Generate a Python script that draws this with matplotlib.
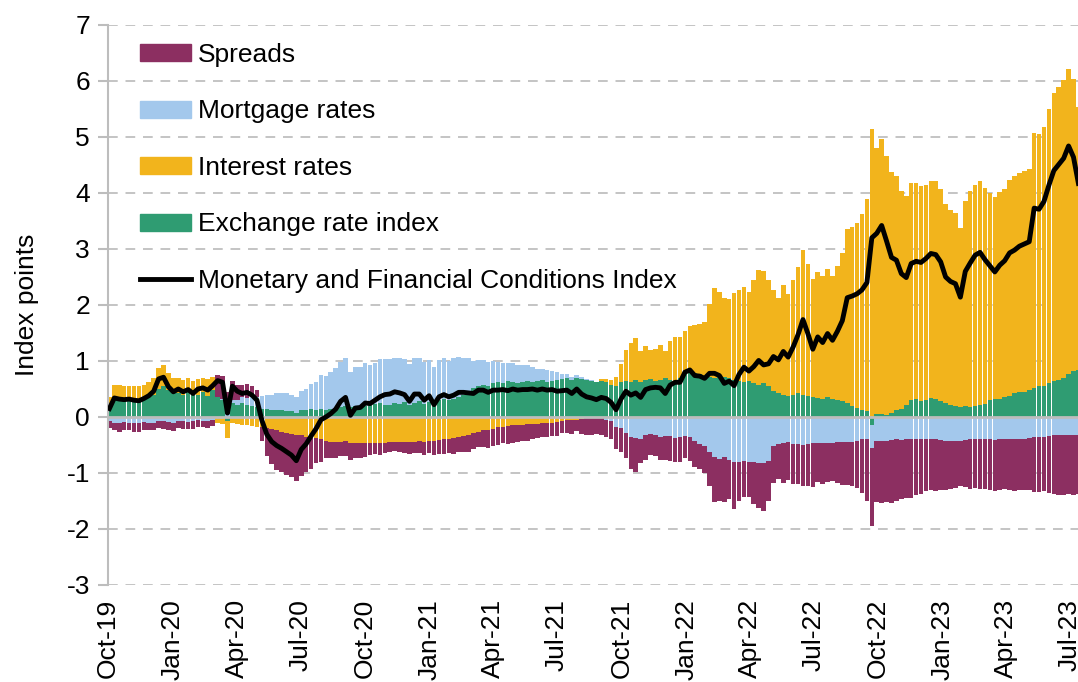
import numpy as np
import pandas as pd
import matplotlib
matplotlib.use("Agg")
import matplotlib.pyplot as plt
import matplotlib.dates as mdates
from matplotlib.patches import Patch
from matplotlib.lines import Line2D

# ---------------- data (weekly readings, first week 3 Oct 2019) ----------------
first_week = "2019-10-03"

exchange_rate_index = [
    0.15, 0.30, 0.32, 0.30, 0.28,
    0.30, 0.28, 0.32, 0.35,
    0.40, 0.50, 0.55, 0.48, 0.42,
    0.42, 0.40, 0.45, 0.42,
    0.40, 0.45, 0.38, 0.48,
    0.35, 0.30, -0.08, 0.25, 0.22,
    0.25, 0.22, 0.20, 0.18,
    0.15, 0.14, 0.12, 0.13,
    0.12, 0.10, 0.10, 0.08, 0.12,
    0.12, 0.14, 0.12, 0.15,
    0.12, 0.14, 0.15, 0.18,
    0.20, 0.18, 0.20, 0.18, 0.20,
    0.22, 0.24, 0.25, 0.22,
    0.22, 0.25, 0.24, 0.26,
    0.22, 0.25, 0.28, 0.24, 0.26,
    0.28, 0.30, 0.32, 0.30,
    0.33, 0.35, 0.40, 0.45,
    0.52, 0.56, 0.58, 0.55, 0.60,
    0.62, 0.60, 0.64, 0.62,
    0.60, 0.62, 0.64, 0.62,
    0.64, 0.66, 0.62, 0.65, 0.66,
    0.68, 0.70, 0.66, 0.70,
    0.68, 0.66, 0.64, 0.62, 0.65,
    0.62, 0.58, 0.56, 0.62,
    0.64, 0.62, 0.66, 0.62,
    0.66, 0.68, 0.64, 0.66, 0.70,
    0.66, 0.64, 0.70, 0.80,
    0.84, 0.78, 0.76, 0.74,
    0.72, 0.70, 0.74, 0.72,
    0.70, 0.66, 0.64, 0.62, 0.64,
    0.60, 0.58, 0.60, 0.55,
    0.46, 0.42, 0.40, 0.38, 0.40,
    0.42, 0.40, 0.38, 0.36,
    0.34, 0.32, 0.35, 0.33,
    0.30, 0.28, 0.25, 0.20, 0.16,
    0.12, 0.10, -0.15, 0.05,
    0.06, 0.04, 0.08, 0.12,
    0.15, 0.22, 0.30, 0.32, 0.28,
    0.30, 0.34, 0.32, 0.28,
    0.25, 0.22, 0.20, 0.18, 0.20,
    0.18, 0.20, 0.22, 0.24,
    0.30, 0.32, 0.33, 0.35,
    0.38, 0.42, 0.45, 0.44,
    0.48, 0.52, 0.55, 0.56, 0.60,
    0.64, 0.66, 0.70, 0.76,
    0.82, 0.84,
]

interest_rates = [
    0.20, 0.28, 0.26, 0.25, 0.28,
    0.26, 0.28, 0.25, 0.27,
    0.30, 0.38, 0.38, 0.30, 0.28,
    0.28, 0.26, 0.25, 0.22,
    0.28, 0.25, 0.30, 0.24,
    -0.10, -0.12, -0.30, -0.10, -0.12,
    -0.15, -0.15, -0.16, -0.18,
    -0.18, -0.20, -0.22, -0.24,
    -0.26, -0.28, -0.30, -0.32, -0.33,
    -0.36, -0.38, -0.38, -0.40,
    -0.42, -0.44, -0.45, -0.44,
    -0.43, -0.47, -0.46, -0.47, -0.46,
    -0.46, -0.46, -0.47, -0.46,
    -0.45, -0.44, -0.45, -0.44,
    -0.44, -0.44, -0.43, -0.44, -0.42,
    -0.42, -0.41, -0.40, -0.40,
    -0.38, -0.36, -0.34, -0.32,
    -0.28, -0.26, -0.24, -0.23, -0.22,
    -0.18, -0.17, -0.16, -0.15,
    -0.14, -0.14, -0.13, -0.13,
    -0.12, -0.11, -0.10, -0.10, -0.09,
    -0.07, -0.06, -0.06, -0.05,
    -0.03, -0.02, -0.02, -0.01, 0.02,
    0.06, 0.08, 0.15, 0.32,
    0.55, 0.70, 0.75, 0.55,
    0.60, 0.52, 0.58, 0.62, 0.48,
    0.70, 0.78, 0.72, 0.74,
    0.78, 0.86, 0.90, 0.95,
    1.30, 1.60, 1.50, 1.40,
    1.40, 1.55, 1.62, 1.70, 1.60,
    1.85, 2.05, 2.00, 1.90,
    1.80, 1.70, 1.95, 1.82, 2.05,
    2.25, 2.58, 2.35, 2.10,
    2.25, 2.20, 2.30, 2.18,
    2.40, 2.65, 3.10, 3.20, 3.30,
    3.50, 3.80, 5.15, 4.75,
    4.90, 4.62, 4.30, 4.18,
    3.88, 3.72, 3.88, 3.85, 3.85,
    3.85, 3.88, 3.90, 3.80,
    3.55, 3.48, 3.45, 3.20, 3.65,
    3.85, 3.95, 4.00, 3.85,
    3.70, 3.60, 3.68, 3.72,
    3.85, 3.88, 3.90, 3.95,
    3.95, 4.55, 4.50, 4.62, 4.90,
    5.14, 5.24, 5.32, 5.46,
    5.22, 4.70,
]

mortgage_rates = [
    -0.08, -0.10, -0.10, -0.09, -0.10,
    -0.10, -0.10, -0.09, -0.10,
    -0.10, -0.08, -0.08, -0.09, -0.10,
    -0.08, -0.08, -0.09, -0.08,
    -0.06, -0.08, -0.07, -0.06,
    0.00, 0.02, 0.05, 0.05, 0.08,
    0.10, 0.12, 0.15, 0.18,
    0.22, 0.25, 0.28, 0.30,
    0.30, 0.32, 0.30, 0.28, 0.35,
    0.38, 0.45, 0.50, 0.60,
    0.62, 0.66, 0.72, 0.80,
    0.85, 0.62, 0.70, 0.72, 0.76,
    0.70, 0.72, 0.78, 0.82,
    0.82, 0.80, 0.82, 0.78,
    0.72, 0.80, 0.78, 0.74, 0.76,
    0.62, 0.72, 0.74, 0.70,
    0.72, 0.72, 0.66, 0.60,
    0.48, 0.46, 0.44, 0.44, 0.40,
    0.36, 0.36, 0.32, 0.34,
    0.32, 0.30, 0.28, 0.28,
    0.22, 0.20, 0.22, 0.18, 0.14,
    0.08, 0.06, 0.06, 0.05,
    0.04, 0.02, 0.02, 0.00, -0.02,
    -0.05, -0.08, -0.18, -0.20,
    -0.28, -0.35, -0.38, -0.40,
    -0.32, -0.30, -0.33, -0.36, -0.34,
    -0.34, -0.38, -0.36, -0.34,
    -0.36, -0.42, -0.48, -0.52,
    -0.62, -0.72, -0.75, -0.72,
    -0.76, -0.80, -0.80, -0.78, -0.80,
    -0.80, -0.82, -0.82, -0.78,
    -0.52, -0.48, -0.46, -0.45, -0.48,
    -0.48, -0.50, -0.48, -0.47,
    -0.46, -0.47, -0.46, -0.46,
    -0.45, -0.45, -0.44, -0.44, -0.42,
    -0.40, -0.40, -0.40, -0.42,
    -0.42, -0.42, -0.41, -0.40,
    -0.41, -0.40, -0.40, -0.39, -0.39,
    -0.40, -0.40, -0.40, -0.41,
    -0.42, -0.42, -0.42, -0.42, -0.41,
    -0.40, -0.40, -0.40, -0.40,
    -0.40, -0.41, -0.40, -0.40,
    -0.40, -0.40, -0.40, -0.40,
    -0.38, -0.36, -0.36, -0.35, -0.34,
    -0.33, -0.33, -0.32, -0.32,
    -0.32, -0.32,
]

spreads = [
    -0.12, -0.14, -0.16, -0.15, -0.14,
    -0.16, -0.17, -0.15, -0.14,
    -0.14, -0.12, -0.14, -0.15, -0.15,
    -0.12, -0.13, -0.12, -0.14,
    -0.12, -0.10, -0.13, -0.10,
    0.40, 0.42, 0.40, 0.35, 0.28,
    0.22, 0.25, 0.20, 0.12,
    -0.25, -0.50, -0.62, -0.70,
    -0.72, -0.76, -0.78, -0.82, -0.72,
    -0.62, -0.55, -0.45, -0.40,
    -0.32, -0.30, -0.28, -0.26,
    -0.27, -0.30, -0.28, -0.26, -0.25,
    -0.22, -0.20, -0.20, -0.18,
    -0.18, -0.16, -0.18, -0.20,
    -0.22, -0.20, -0.22, -0.24, -0.22,
    -0.26, -0.25, -0.26, -0.24,
    -0.28, -0.27, -0.28, -0.30,
    -0.30, -0.28, -0.30, -0.32, -0.30,
    -0.32, -0.30, -0.33, -0.31,
    -0.30, -0.29, -0.30, -0.27,
    -0.26, -0.25, -0.26, -0.24, -0.25,
    -0.22, -0.22, -0.24, -0.20,
    -0.28, -0.30, -0.30, -0.30, -0.30,
    -0.30, -0.32, -0.40, -0.42,
    -0.45, -0.58, -0.60, -0.42,
    -0.45, -0.38, -0.36, -0.40, -0.42,
    -0.45, -0.42, -0.44, -0.40,
    -0.42, -0.48, -0.45, -0.48,
    -0.62, -0.80, -0.75, -0.80,
    -0.70, -0.85, -0.70, -0.65, -0.62,
    -0.75, -0.80, -0.85, -0.72,
    -0.66, -0.62, -0.72, -0.68, -0.72,
    -0.72, -0.74, -0.76, -0.78,
    -0.70, -0.72, -0.70, -0.68,
    -0.72, -0.76, -0.78, -0.80, -0.84,
    -0.95, -1.10, -1.40, -1.10,
    -1.12, -1.10, -1.12, -1.10,
    -1.06, -1.05, -1.04, -1.00, -0.98,
    -0.92, -0.90, -0.92, -0.90,
    -0.88, -0.86, -0.85, -0.82, -0.84,
    -0.88, -0.86, -0.88, -0.88,
    -0.90, -0.92, -0.90, -0.88,
    -0.90, -0.92, -0.90, -0.90,
    -0.92, -0.98, -0.98, -0.98, -1.02,
    -1.05, -1.06, -1.08, -1.06,
    -1.08, -1.05,
]

tick_labels = ["Oct-19", "Jan-20", "Apr-20", "Jul-20", "Oct-20", "Jan-21",
               "Apr-21", "Jul-21", "Oct-21", "Jan-22", "Apr-22", "Jul-22",
               "Oct-22", "Jan-23", "Apr-23", "Jul-23"]

series_names = ["Exchange rate index", "Interest rates", "Mortgage rates", "Spreads"]
line_name = "Monetary and Financial Conditions Index"

n = len(exchange_rate_index)
for s in (interest_rates, mortgage_rates, spreads):
    if len(s) != n:
        raise ValueError(f"length mismatch {len(s)} vs {n}")

# ---------------- styling ----------------
colors = {
    "Spreads": "#8C2F61",
    "Mortgage rates": "#A3C8EC",
    "Interest rates": "#F2B41C",
    "Exchange rate index": "#2F9C72",
}

plt.rcParams["font.family"] = ["Liberation Sans", "DejaVu Sans"]
plt.rcParams["axes.unicode_minus"] = False
FS = 19

dates = pd.date_range(first_week, periods=n, freq="7D")
x = mdates.date2num(dates.to_pydatetime())

fig = plt.figure(figsize=(10.78, 6.82), dpi=100)
ax = fig.add_axes([108 / 1078, 1 - 585 / 682, 970 / 1078, 560 / 682])

data = {
    "Exchange rate index": np.array(exchange_rate_index),
    "Interest rates": np.array(interest_rates),
    "Mortgage rates": np.array(mortgage_rates),
    "Spreads": np.array(spreads),
}

pos_base = np.zeros(n)
neg_base = np.zeros(n)
width = 6.5
for name in series_names:
    v = data[name]
    bottoms = np.where(v >= 0, pos_base, neg_base)
    ax.bar(x, v, width=width, bottom=bottoms, color=colors[name],
           linewidth=0, zorder=2)
    pos_base = pos_base + np.where(v > 0, v, 0)
    neg_base = neg_base + np.where(v < 0, v, 0)

mci = data["Exchange rate index"] + data["Interest rates"] + \
    data["Mortgage rates"] + data["Spreads"]
ax.axhline(0, color="#BDBDBD", lw=2.0, zorder=3)
ax.plot(x, mci, color="black", lw=3.5, zorder=4, solid_joinstyle="round")

# axes
ax.set_ylim(-3, 7)
ax.set_yticks(range(-3, 8))
ax.set_yticklabels([str(v) for v in range(-3, 8)])
x0 = mdates.date2num(pd.Timestamp("2019-10-01").to_pydatetime())
ax.set_xlim(x0, x0 + 1380.4)
tick_dates = pd.date_range("2019-10-01", periods=len(tick_labels), freq="3MS")
ax.set_xticks(mdates.date2num(tick_dates.to_pydatetime()))
ax.set_xticklabels(tick_labels, rotation=90, fontsize=FS)
ax.tick_params(axis="x", length=0, pad=10)
ax.tick_params(axis="y", length=7, width=1.5, color="#BDBDBD", labelsize=FS, pad=6)

ax.grid(axis="y", linestyle=(0, (5, 4)), color="#C4C4C4", lw=1.4, zorder=0)
ax.set_axisbelow(True)
for sp in ("top", "right", "bottom"):
    ax.spines[sp].set_visible(False)
ax.spines["left"].set_color("#BDBDBD")
ax.spines["left"].set_linewidth(1.5)

ax.set_ylabel("Index points", fontsize=FS, labelpad=20)

handles = [Patch(color=colors["Spreads"]),
           Patch(color=colors["Mortgage rates"]),
           Patch(color=colors["Interest rates"]),
           Patch(color=colors["Exchange rate index"]),
           Line2D([0], [0], color="black", lw=3.5)]
labels = ["Spreads", "Mortgage rates", "Interest rates", "Exchange rate index", line_name]
fig.legend(handles, labels, loc="upper left",
           bbox_to_anchor=(140 / 1078, 1 - 43 / 682), frameon=False,
           fontsize=FS, borderpad=0, borderaxespad=0, handlelength=1.95,
           handleheight=0.62, handletextpad=0.25, labelspacing=1.23)

fig.savefig("out.png", dpi=100)
